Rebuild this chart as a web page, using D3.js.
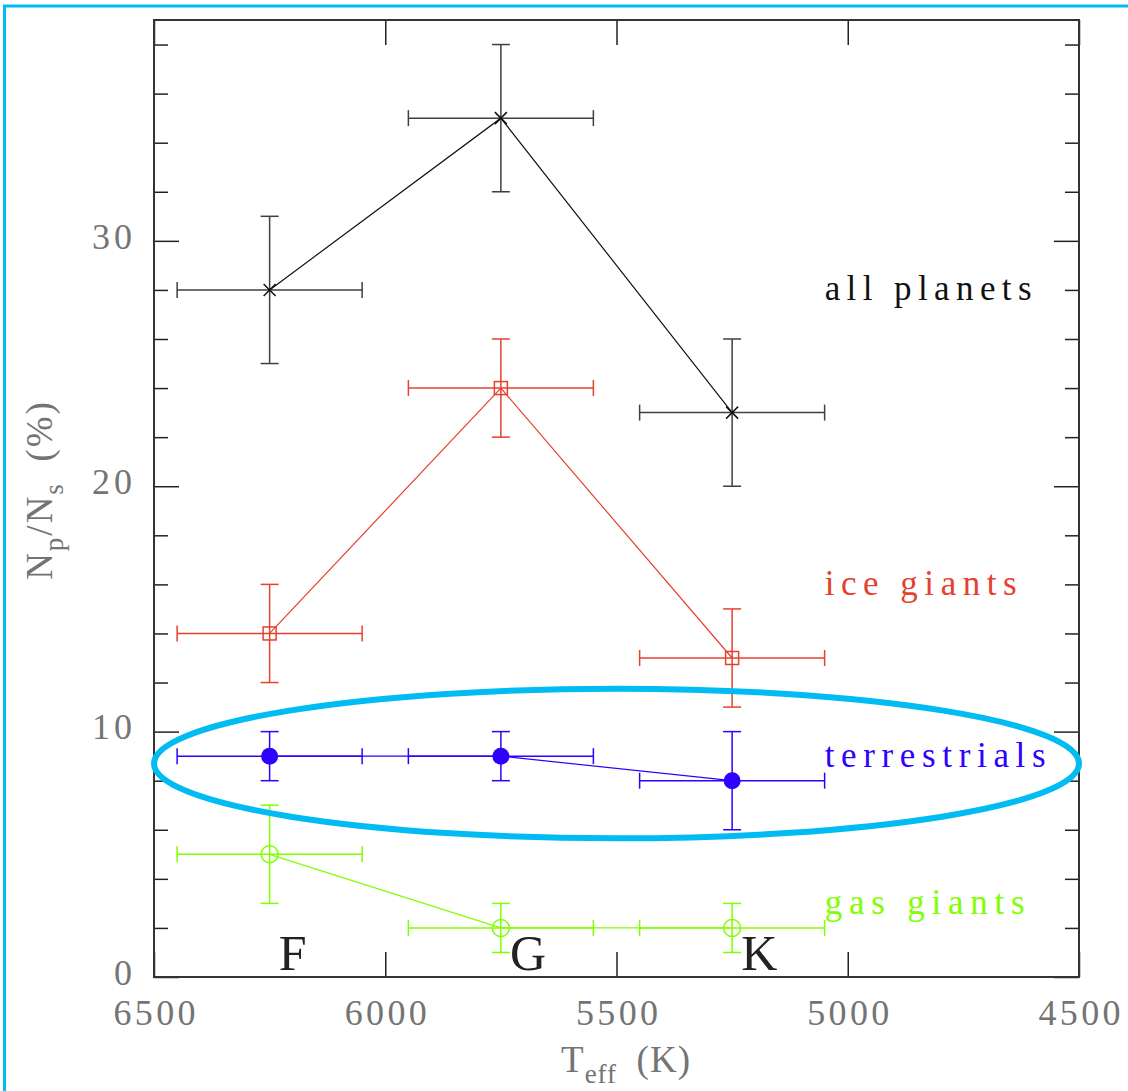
<!DOCTYPE html>
<html><head><meta charset="utf-8">
<script src="https://cdn.jsdelivr.net/npm/d3@7"></script>
<style>body{margin:0;background:#fff}svg{display:block}</style>
</head><body>
<svg id="c" width="1128" height="1091"></svg>
<script>
// ---- data ----
const spectralClasses = ["F", "G", "K"];
const teff = [6250, 5750, 5250];
const teffErr = [200, 200, 200];
const allPlanets = [28, 35, 23];
const allPlanetsErr = [3, 3, 3];
const iceGiants = [14, 24, 13];
const iceGiantsErr = [2, 2, 2];
const terrestrials = [9, 9, 8];
const terrestrialsErr = [1, 1, 2];
const gasGiants = [5, 2, 2];
const gasGiantsErr = [2, 1, 1];
const seriesNames = ["all planets", "ice giants", "terrestrials", "gas giants"];
const seriesLabelX = 5050;
const seriesLabelY = [28, 16, 9, 3];
const xTickValues = [6500, 6000, 5500, 5000, 4500];
const yMajorTicks = [0, 10, 20, 30];
const yMinorTicks = d3.range(0, 39, 2);
const highlightCenter = [5500, 8.7];
const highlightRadius = [1000, 3.05];

// ---- layout ----
const svg = d3.select("#c");
const L = 154, R = 1079, T = 20, B = 977;
const x = d3.scaleLinear().domain([6500, 4500]).range([L, R]);
const y = d3.scaleLinear().domain([0, 39]).range([B, T]);

const colors = ["#111111", "#e5412f", "#2d00ff", "#80ff00"];
const markers = ["cross", "square", "disc", "circle"];
const values = [allPlanets, iceGiants, terrestrials, gasGiants];
const errs = [allPlanetsErr, iceGiantsErr, terrestrialsErr, gasGiantsErr];
const labelWidths = [207, 192, 221, 200];

// cyan outer frame (top + left)
svg.append("line").attr("x1", 3).attr("x2", 1128).attr("y1", 6).attr("y2", 6)
  .attr("stroke", "#00bcf2").attr("stroke-width", 3);
svg.append("line").attr("x1", 4.5).attr("x2", 4.5).attr("y1", 5).attr("y2", 1091)
  .attr("stroke", "#00bcf2").attr("stroke-width", 3);

// ---- axes ----
const tickFont = "'Liberation Serif', serif";
const gAx = svg.append("g");
// bottom
const bottom = gAx.append("g").attr("transform", `translate(0,${B})`)
  .call(d3.axisBottom(x).tickValues(xTickValues).tickSizeInner(-25).tickSizeOuter(0).tickFormat(d3.format("d")));
bottom.selectAll("text").attr("y", 48).attr("dy", null)
  .attr("textLength", d => 21 * String(d).length - 2).attr("lengthAdjust", "spacing");
// top
gAx.append("g").attr("transform", `translate(0,${T})`)
  .call(d3.axisTop(x).tickValues(xTickValues).tickSizeInner(-25).tickSizeOuter(0).tickFormat(""));
// left major
const left = gAx.append("g").attr("transform", `translate(${L},0)`)
  .call(d3.axisLeft(y).tickValues(yMajorTicks).tickSizeInner(-25).tickSizeOuter(0).tickPadding(22).tickFormat(d3.format("d")));
left.selectAll("text").attr("dy", "0.2em")
  .attr("textLength", d => 21 * String(d).length - 2).attr("lengthAdjust", "spacing");
// left minor
gAx.append("g").attr("transform", `translate(${L},0)`)
  .call(d3.axisLeft(y).tickValues(yMinorTicks.filter(v => !yMajorTicks.includes(v))).tickSizeInner(-14).tickSizeOuter(0).tickFormat(""));
// right major & minor
gAx.append("g").attr("transform", `translate(${R},0)`)
  .call(d3.axisRight(y).tickValues(yMajorTicks).tickSizeInner(-25).tickSizeOuter(0).tickFormat(""));
gAx.append("g").attr("transform", `translate(${R},0)`)
  .call(d3.axisRight(y).tickValues(yMinorTicks.filter(v => !yMajorTicks.includes(v))).tickSizeInner(-14).tickSizeOuter(0).tickFormat(""));

gAx.selectAll(".domain").remove();
gAx.selectAll(".tick line").attr("stroke", "#222").attr("stroke-width", 1.5);
gAx.selectAll("text").attr("font-family", tickFont).attr("font-size", 36).attr("fill", "#747474");

// frame
svg.append("rect").attr("x", L).attr("y", T).attr("width", R - L).attr("height", B - T)
  .attr("fill", "none").attr("stroke", "#333").attr("stroke-width", 2);

// axis titles
const xt = svg.append("text").attr("x", 626).attr("y", 1072).attr("text-anchor", "middle")
  .attr("font-family", tickFont).attr("font-size", 37).attr("fill", "#747474").attr("letter-spacing", 1);
xt.append("tspan").text("T");
xt.append("tspan").attr("dy", 11).attr("font-size", 27).text("eff");
xt.append("tspan").attr("dy", -11).text("\u2002(K)");

const yt = svg.append("text").attr("transform", "translate(52,490) rotate(-90)").attr("text-anchor", "middle")
  .attr("font-family", tickFont).attr("font-size", 37).attr("fill", "#747474").attr("letter-spacing", 2);
yt.append("tspan").text("N");
yt.append("tspan").attr("dy", 11).attr("font-size", 27).text("p");
yt.append("tspan").attr("dy", -11).text("/N");
yt.append("tspan").attr("dy", 11).attr("font-size", 27).text("s");
yt.append("tspan").attr("dy", -11).text("\u2002(%)");

// ---- series ----
const capX = 9, capY = 8;
values.forEach((vals, si) => {
  const col = colors[si];
  const g = svg.append("g");
  const pts = teff.map((t, i) => ({ t, v: vals[i], e: errs[si][i], te: teffErr[i] }));
  // connecting line
  g.append("path").datum(pts)
    .attr("d", d3.line().x(d => x(d.t)).y(d => y(d.v)))
    .attr("fill", "none").attr("stroke", col).attr("stroke-width", 1.2);
  // error bars
  pts.forEach(d => {
    const cx = x(d.t), cy = y(d.v);
    const eb = g.append("g").attr("stroke", col).attr("stroke-width", 1.5).attr("fill", "none")
      .attr("opacity", si === 0 ? 0.8 : 1);
    eb.append("line").attr("x1", cx).attr("x2", cx).attr("y1", y(d.v - d.e)).attr("y2", y(d.v + d.e));
    eb.append("line").attr("x1", cx - capX).attr("x2", cx + capX).attr("y1", y(d.v - d.e)).attr("y2", y(d.v - d.e));
    eb.append("line").attr("x1", cx - capX).attr("x2", cx + capX).attr("y1", y(d.v + d.e)).attr("y2", y(d.v + d.e));
    eb.append("line").attr("x1", x(d.t + d.te)).attr("x2", x(d.t - d.te)).attr("y1", cy).attr("y2", cy);
    eb.append("line").attr("x1", x(d.t + d.te)).attr("x2", x(d.t + d.te)).attr("y1", cy - capY).attr("y2", cy + capY);
    eb.append("line").attr("x1", x(d.t - d.te)).attr("x2", x(d.t - d.te)).attr("y1", cy - capY).attr("y2", cy + capY);
    // markers
    const m = markers[si];
    if (m === "cross") {
      g.append("path").attr("d", `M${cx - 6},${cy - 6}L${cx + 6},${cy + 6}M${cx - 6},${cy + 6}L${cx + 6},${cy - 6}`)
        .attr("stroke", col).attr("stroke-width", 1.5);
    } else if (m === "square") {
      g.append("rect").attr("x", cx - 6.5).attr("y", cy - 6.5).attr("width", 13).attr("height", 13)
        .attr("fill", "none").attr("stroke", col).attr("stroke-width", 1.5);
    } else if (m === "disc") {
      g.append("circle").attr("cx", cx).attr("cy", cy).attr("r", 8.5).attr("fill", col);
    } else {
      g.append("circle").attr("cx", cx).attr("cy", cy).attr("r", 8.5)
        .attr("fill", "none").attr("stroke", col).attr("stroke-width", 1.5);
    }
  });
  // series label
  g.append("text").attr("x", x(seriesLabelX)).attr("y", y(seriesLabelY[si])).attr("dy", "0.3em")
    .attr("font-family", tickFont).attr("font-size", 35).attr("fill", col)
    .attr("textLength", labelWidths[si]).attr("lengthAdjust", "spacing")
    .text(seriesNames[si]);
});

// spectral class letters
svg.append("g").selectAll("text").data(spectralClasses).join("text")
  .attr("x", (d, i) => x(teff[i]) + 9).attr("y", 970)
  .attr("font-family", tickFont).attr("font-size", 50).attr("fill", "#222")
  .text(d => d);

// highlight ellipse
svg.append("ellipse")
  .attr("cx", x(highlightCenter[0])).attr("cy", y(highlightCenter[1]))
  .attr("rx", Math.abs(x(highlightCenter[0] + highlightRadius[0]) - x(highlightCenter[0])))
  .attr("ry", Math.abs(y(highlightCenter[1] + highlightRadius[1]) - y(highlightCenter[1])))
  .attr("fill", "none").attr("stroke", "#00bcf2").attr("stroke-width", 6);
</script>
</body></html>
